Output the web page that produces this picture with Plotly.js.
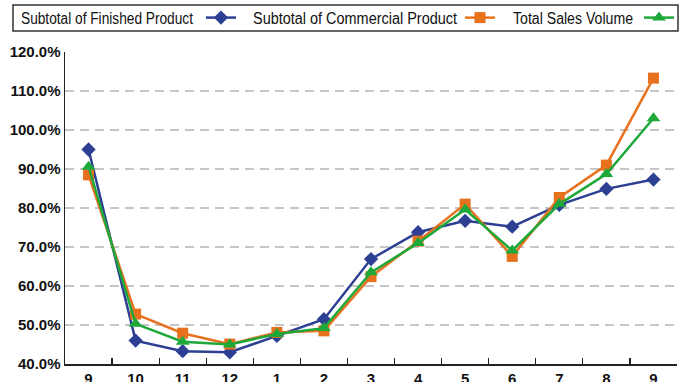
<!DOCTYPE html>
<html><head><meta charset="utf-8">
<script src="https://cdn.plot.ly/plotly-3.0.1.min.js"></script>
<style>html,body{margin:0;padding:0;background:#fff}#chart{width:685px;height:382px}</style>
</head><body><div id="chart"></div>
<script>
// ---- data ----
const months = ['9','10','11','12','1','2','3','4','5','6','7','8','9'];
const finishedProduct = [95.0,46.0,43.3,43.0,47.2,51.5,66.9,73.8,76.7,75.2,80.8,84.9,87.3];
const commercialProduct = [88.5,52.8,47.9,45.1,48.1,48.5,62.4,71.5,81.0,67.6,82.7,91.0,113.3];
const totalSalesVolume = [90.6,50.3,45.7,45.0,47.7,49.2,63.5,71.0,79.6,69.1,81.0,88.7,103.0];
const seriesNames = ['Subtotal of Finished Product','Subtotal of Commercial Product','Total Sales Volume'];
const yTickValues = [40,50,60,70,80,90,100,110,120];

// ---- styling ----
const FONT = '"Liberation Sans", Arial, sans-serif';
const colors = ['#2C3F93', '#E8711E', '#1FA83A'];
const symbols = ['diamond', 'square', 'triangle-up'];
const msize = [11, 11, 12];
const W = 685, H = 382, L = 65, R = 8, T = 52, B = 18;
const pw = W - L - R, ph = H - T - B;
const px = v => (v - L) / pw;          // pixel -> paper x
const py = v => (H - B - v) / ph;      // pixel -> paper y

const xIdx = months.map((_, i) => i);
const series = [finishedProduct, commercialProduct, totalSalesVolume];
const legendNames = ['legend', 'legend2', 'legend3'];
const glyphX = [201, 460, 639];   // legend glyph start (px)
const textX = [21, 253, 513];     // legend text start (px)
const textW = [172, 204, 120];    // legend text width (condensed look)

const traces = series.map((ys, i) => ({
  x: xIdx, y: ys, type: 'scatter', mode: 'lines+markers',
  name: '', legend: legendNames[i], showlegend: true,
  line: {color: colors[i], width: 2.5},
  marker: {symbol: symbols[i], size: msize[i], color: colors[i]},
  hoverinfo: 'skip'
}));
// tick-mark carrier for boundary ticks
traces.push({x: [0], y: [null], xaxis: 'x2', type: 'scatter', mode: 'markers', showlegend: false, hoverinfo: 'skip'});

const layout = {
  width: W, height: H,
  margin: {l: L, r: R, t: T, b: B, pad: 0, autoexpand: false},
  paper_bgcolor: '#fff', plot_bgcolor: '#fff',
  font: {family: FONT, color: '#111'},
  showlegend: true,
  xaxis: {
    range: [-0.5, 12.5], tickvals: xIdx, ticktext: months, ticks: '',
    showgrid: false, zeroline: false, showline: true, linecolor: '#222', linewidth: 1.5,
    tickfont: {family: FONT, size: 15, color: '#111', weight: 'bold'}, fixedrange: true
  },
  xaxis2: {
    overlaying: 'x', anchor: 'y', side: 'bottom', range: [-0.5, 12.5],
    tickvals: xIdx.map(i => i + 0.5), showticklabels: false,
    ticks: 'inside', ticklen: 6, tickwidth: 1.2, tickcolor: '#222',
    showgrid: false, zeroline: false, showline: false
  },
  yaxis: {
    range: [40, 120], tickvals: yTickValues, ticktext: yTickValues.map(v => v.toFixed(1) + '%'),
    ticks: '', showline: true, linecolor: '#222', linewidth: 1.5, zeroline: false,
    showgrid: true, gridcolor: '#C6C6C6', gridwidth: 1.7, griddash: '9px,6px',
    tickfont: {family: FONT, size: 15, color: '#111', weight: 'bold'}, fixedrange: true
  },
  shapes: [{
    type: 'rect', xref: 'paper', yref: 'paper',
    x0: px(13), x1: px(678), y0: py(31), y1: py(5),
    line: {color: '#333', width: 1.5}, fillcolor: 'rgba(0,0,0,0)'
  }],
  annotations: seriesNames.map((n, i) => ({
    text: n, xref: 'paper', yref: 'paper', x: px(textX[i]), y: py(18.5),
    xanchor: 'left', yanchor: 'middle', align: 'left', showarrow: false,
    font: {family: FONT, size: 16, color: '#111'}
  }))
};
legendNames.forEach((ln, i) => {
  layout[ln] = {
    xref: 'container', yref: 'container',
    x: glyphX[i] / W, y: (H - 18) / H, xanchor: 'left', yanchor: 'middle',
    bgcolor: 'rgba(0,0,0,0)', borderwidth: 0, orientation: 'h',
    font: {family: FONT, size: 14}, itemwidth: 30
  };
});

Plotly.newPlot('chart', traces, layout, {staticPlot: true, displayModeBar: false}).then(gd => {
  // condense legend texts horizontally (reference uses a narrow typeface)
  const texts = gd.querySelectorAll('.annotation-text');
  texts.forEach((t, i) => {
    t.setAttribute('textLength', textW[i]);
    t.setAttribute('lengthAdjust', 'spacingAndGlyphs');
    const r = t.getBoundingClientRect();
    const host = gd.getBoundingClientRect();
    const dx = textX[i] - (r.left - host.left);
    t.setAttribute('transform', 'translate(' + dx + ',0)');
  });
});
</script></body></html>
